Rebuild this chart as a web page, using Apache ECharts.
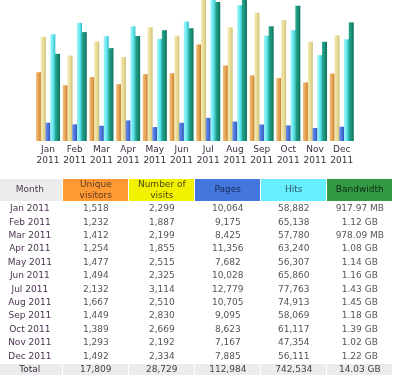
<!DOCTYPE html>
<html>
<head>
<meta charset="utf-8">
<script src="https://cdn.jsdelivr.net/npm/echarts@6/dist/echarts.min.js"></script>
<style>
  html, body { margin: 0; padding: 0; background: #fff; width: 403px; height: 385px; overflow: hidden; font-family: 'DejaVu Sans', Verdana, sans-serif; }
  #chart { position: absolute; left: 0; top: 0; width: 403px; height: 172px; }
  #table { position: absolute; left: 0; top: 0; width: 403px; height: 385px; }
  .cell { position: absolute; font-size: 9px; text-align: center; white-space: nowrap; }
</style>
</head>
<body>
<div id="chart"></div>
<div id="table"></div>
<script>
var months = ['Jan', 'Feb', 'Mar', 'Apr', 'May', 'Jun', 'Jul', 'Aug', 'Sep', 'Oct', 'Nov', 'Dec'];
var year = '2011';
var visitors = [1518, 1232, 1412, 1254, 1477, 1494, 2132, 1667, 1449, 1389, 1293, 1492];
var visits = [2299, 1887, 2199, 1855, 2515, 2325, 3114, 2510, 2830, 2669, 2192, 2334];
var pages = [10064, 9175, 8425, 11356, 7682, 10028, 12779, 10705, 9095, 8623, 7167, 7885];
var hits = [58882, 65138, 57780, 63240, 56307, 65860, 77763, 74913, 58069, 61117, 47354, 56111];
var bandwidthMB = [917.97, 1146.88, 978.09, 1105.92, 1167.36, 1187.84, 1464.32, 1484.8, 1208.32, 1423.36, 1044.48, 1249.28];
var bandwidthLabels = ['917.97 MB', '1.12 GB', '978.09 MB', '1.08 GB', '1.14 GB', '1.16 GB', '1.43 GB', '1.45 GB', '1.18 GB', '1.39 GB', '1.02 GB', '1.22 GB'];
var headers = ['Month', 'Unique\nvisitors', 'Number of\nvisits', 'Pages', 'Hits', 'Bandwidth'];
var totals = ['Total', '17,809', '28,729', '112,984', '742,534', '14.03 GB'];

function grad(c0, c1, c2) {
  return new echarts.graphic.LinearGradient(0, 0, 1, 0, [
    { offset: 0, color: c0 }, { offset: 0.55, color: c1 }, { offset: 1, color: c2 }
  ]);
}

var chart = echarts.init(document.getElementById('chart'), null, { renderer: 'canvas' });
var catLabels = months.map(function (m) { return m + '\n' + year; });
var bw = 5, gap = '-5%';
function bar(name, data, axis, colors) {
  return {
    name: name, type: 'bar', data: data, yAxisIndex: axis,
    barWidth: bw, barGap: gap, animation: false,
    itemStyle: { color: grad(colors[0], colors[1], colors[2]) }
  };
}
chart.setOption({
  animation: false,
  grid: { left: 34.7, width: 320.4, top: -1, height: 142 },
  xAxis: {
    type: 'category', data: catLabels,
    axisLine: { show: false }, axisTick: { show: false },
    axisLabel: { interval: 0, margin: 3, fontSize: 9, lineHeight: 11, color: '#3d2d40', fontFamily: "'DejaVu Sans', Verdana, sans-serif" }
  },
  yAxis: [
    { type: 'value', min: 0, max: Math.max.apply(null, visits), show: false },
    { type: 'value', min: 0, max: Math.max.apply(null, hits), show: false },
    { type: 'value', min: 0, max: Math.max.apply(null, bandwidthMB), show: false }
  ],
  series: [
    bar('Unique visitors', visitors, 0, ['#f2be7a', '#e6a050', '#c07828']),
    bar('Number of visits', visits, 0, ['#f4eab4', '#e8dc98', '#cdbd70']),
    bar('Pages', pages, 1, ['#6c90ea', '#4a72da', '#2c4cb0']),
    bar('Hits', hits, 1, ['#a0f6fa', '#6ae6ee', '#22bcc6']),
    bar('Bandwidth', bandwidthMB, 2, ['#2aa88a', '#18907a', '#0c7058'])
  ]
});

// Table
var tbl = document.getElementById('table');
var colLeft = [-2.7, 63.3, 129.3, 195.3, 261.3, 327.3];
var colW = 65;
var headBg = ['#ececec', '#ff9933', '#f2f200', '#4477dd', '#66eeff', '#339944'];
var headColor = ['#4d3a50', '#5a3a20', '#4a4a10', '#1a2a55', '#335566', '#0f2a12'];
function addCell(text, left, top, w, h, bg, color, lh) {
  var d = document.createElement('div');
  d.className = 'cell';
  d.style.left = left + 'px';
  d.style.top = top + 'px';
  d.style.width = w + 'px';
  d.style.height = h + 'px';
  if (bg) d.style.background = bg;
  d.style.color = color;
  var lines = String(text).split('\n');
  d.style.lineHeight = lh + 'px';
  d.style.paddingTop = ((h - lines.length * lh) / 2) + 'px';
  d.style.height = (h - (h - lines.length * lh) / 2) + 'px';
  d.innerText = text;
  tbl.appendChild(d);
}
var headTop = 178.5, headH = 22.5;
for (var i = 0; i < headers.length; i++) {
  addCell(headers[i], colLeft[i], headTop, colW, headH, headBg[i], headColor[i], 10.7);
}
var rowTop0 = 202, rowH = 13.4;
function fmt(n) { return n.toString().replace(/\B(?=(\d{3})+(?!\d))/g, ','); }
for (var r = 0; r < months.length; r++) {
  var y = rowTop0 + r * rowH;
  var vals = [months[r] + ' ' + year, fmt(visitors[r]), fmt(visits[r]), fmt(pages[r]), fmt(hits[r]), bandwidthLabels[r]];
  for (var c = 0; c < vals.length; c++) {
    addCell(vals[c], colLeft[c], y, colW, rowH, null, c === 0 ? '#4b3350' : '#555', 11);
  }
}
var totTop = 364, totH = 10.6;
for (var c2 = 0; c2 < totals.length; c2++) {
  addCell(totals[c2], colLeft[c2], totTop, colW, totH, '#ececec', c2 === 0 ? '#3d2d40' : '#444', 10.6);
}
</script>
</body>
</html>
